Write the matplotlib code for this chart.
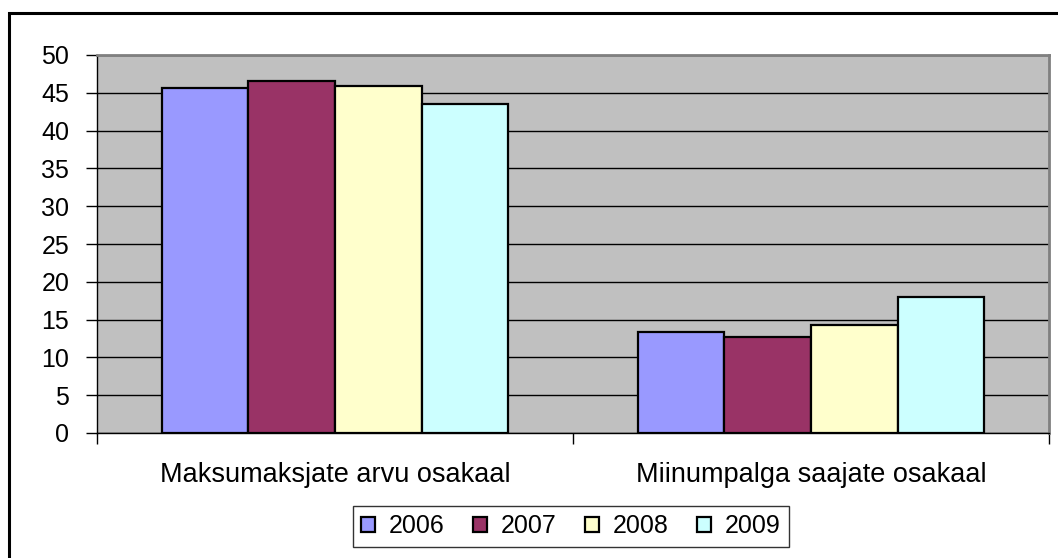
import numpy as np
import matplotlib.pyplot as plt
from matplotlib.patches import Rectangle

plt.rcParams['font.family'] = ['Liberation Sans', 'DejaVu Sans']

categories = ["Maksumaksjate arvu osakaal", "Miinumpalga saajate osakaal"]
years = ["2006", "2007", "2008", "2009"]
values = {
    "2006": [45.6, 13.3],
    "2007": [46.6, 12.7],
    "2008": [45.9, 14.3],
    "2009": [43.5, 18.0],
}
colors = ["#9999FF", "#993366", "#FFFFCC", "#CCFFFF"]

fig = plt.figure(figsize=(10.58, 5.58), dpi=100)
ax = fig.add_axes([97/1058, 1 - 433/558, (1049 - 97)/1058, (433 - 55)/558])
ax.set_facecolor("#C0C0C0")

x = np.arange(len(categories))
w = 0.182
for i, (yr, c) in enumerate(zip(years, colors)):
    ax.bar(x + (i - 1.5) * w, values[yr], width=w, color=c,
           edgecolor="black", linewidth=1.6, label=yr, zorder=3)

ax.set_xlim(-0.5, 1.5)
ax.set_ylim(0, 50)
ax.set_yticks(np.arange(0, 51, 5))
ax.yaxis.grid(True, color="black", linewidth=1.0, zorder=0)
ax.set_axisbelow(True)

ax.set_xticks(x)
ax.set_xticklabels(categories)
ax.set_xticks([-0.5, 0.5, 1.5], minor=True)
ax.tick_params(axis="x", which="major", length=0, pad=21, labelsize=19.5)
ax.tick_params(axis="x", which="minor", length=8, width=1, direction="out")
ax.tick_params(axis="y", length=8, width=1, pad=12, labelsize=18)

for side in ["top", "right"]:
    ax.spines[side].set_color("#808080")
    ax.spines[side].set_linewidth(2)
for side in ["left", "bottom"]:
    ax.spines[side].set_color("black")
    ax.spines[side].set_linewidth(1)

leg = fig.legend(loc="lower center", bbox_to_anchor=(571/1058, -0.003), ncol=4,
                 fontsize=18, frameon=True, fancybox=False, edgecolor="black",
                 handlelength=0.55, handleheight=0.55, handletextpad=0.55,
                 columnspacing=1.15, borderpad=0.35)
leg.get_frame().set_linewidth(1)

fig.patches.append(Rectangle((9/1058, -0.1), 1.2, 1.1 - 13/558 + 0.0,
                             transform=fig.transFigure, fill=False,
                             edgecolor="black", linewidth=2.2))

fig.savefig("out.png", dpi=100)
